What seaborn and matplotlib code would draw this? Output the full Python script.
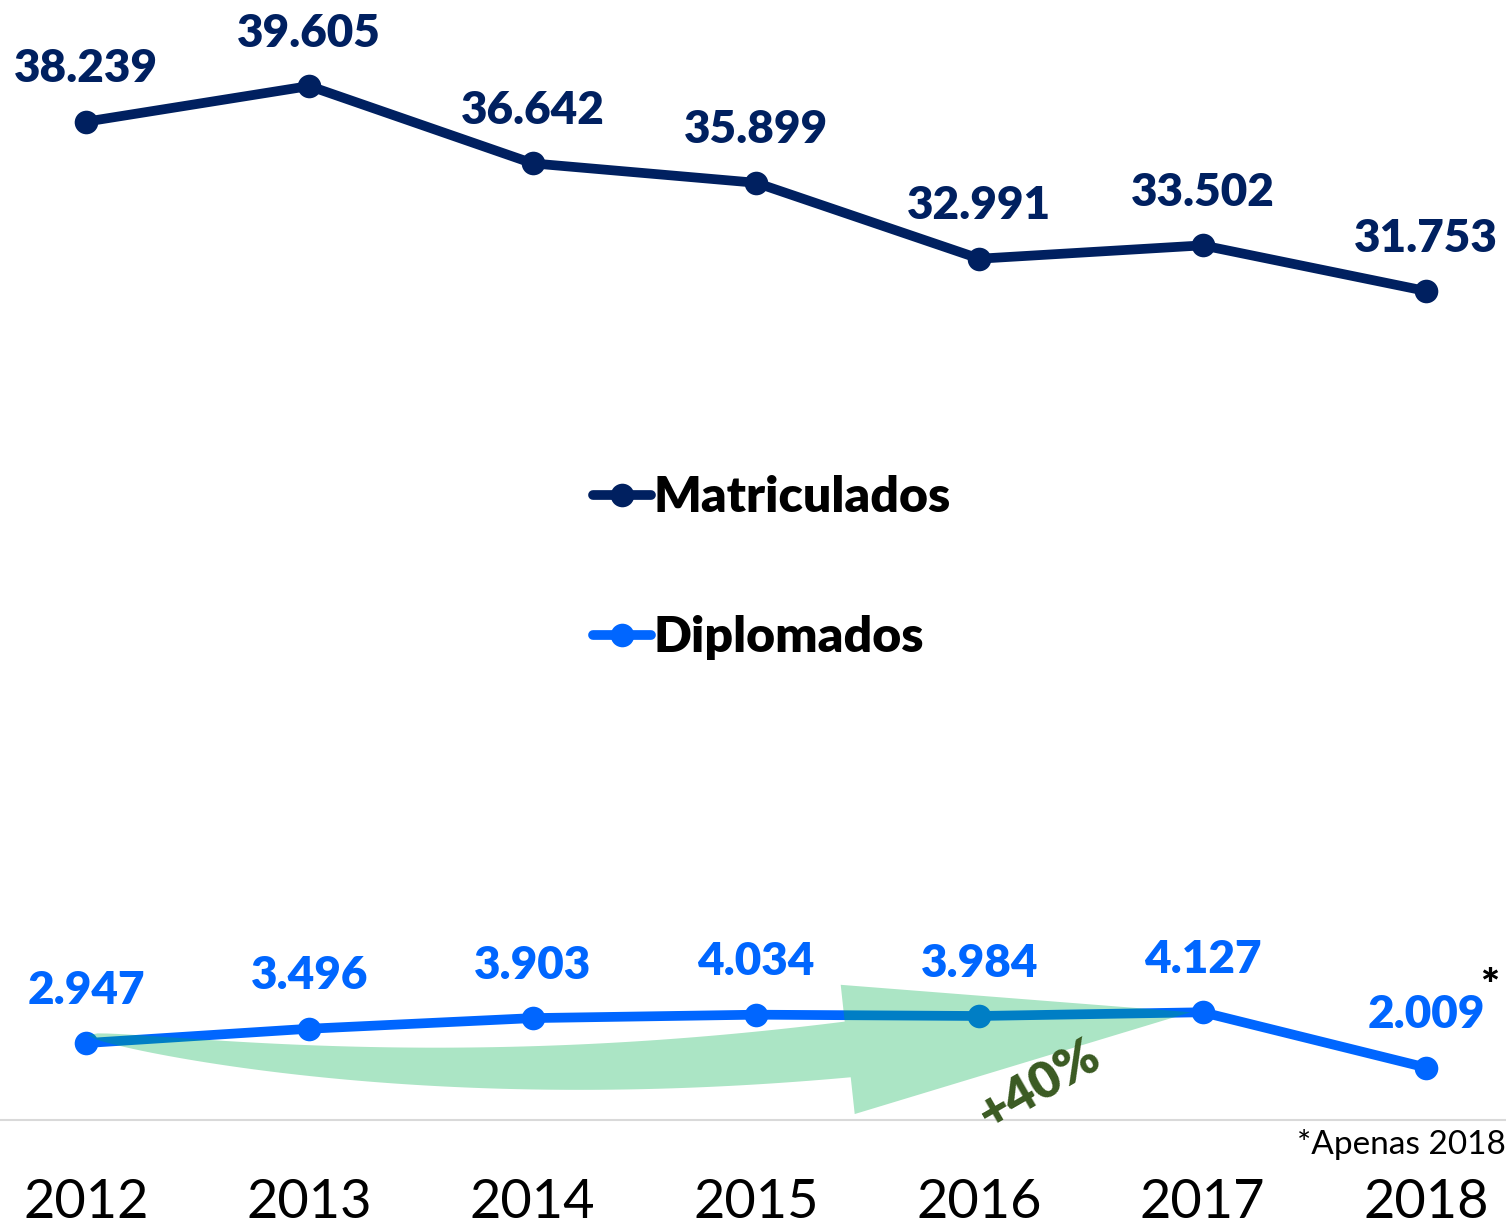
import numpy as np
import pandas as pd
import matplotlib
matplotlib.use('Agg')
import matplotlib.pyplot as plt
import seaborn as sns
from matplotlib.patches import Polygon

# data
anos = [2012, 2013, 2014, 2015, 2016, 2017, 2018]
matriculados = [38239, 39605, 36642, 35899, 32991, 33502, 31753]
diplomados = [2947, 3496, 3903, 4034, 3984, 4127, 2009]
rotulos_mat = ['38.239', '39.605', '36.642', '35.899', '32.991', '33.502', '31.753']
rotulos_dip = ['2.947', '3.496', '3.903', '4.034', '3.984', '4.127', '2.009']

df = pd.DataFrame({
    'ano': anos * 2,
    'valor': matriculados + diplomados,
    'serie': ['Matriculados'] * 7 + ['Diplomados'] * 7,
})

cores = {'Matriculados': '#002060', 'Diplomados': '#0066FF'}

sns.set_style('white')
plt.rcParams['font.family'] = ['Lato', 'DejaVu Sans']
plt.rcParams['text.color'] = 'black'

fig = plt.figure(figsize=(15.06, 12.28), dpi=100)
ax = fig.add_axes([0, 108 / 1228, 1, 1120 / 1228])

sns.lineplot(data=df, x='ano', y='valor', hue='serie', palette=cores,
             marker='o', markersize=17, linewidth=7, markeredgewidth=0,
             solid_capstyle='round', ax=ax, zorder=3)

ax.set_xlim(2012 - 0.385, 2018 + 0.358)
ax.set_ylim(0, 42900)

# data labels
for a, v, t in zip(anos, matriculados, rotulos_mat):
    ax.annotate(t, (a, v), xytext=(0, 38), textcoords='offset points',
                ha='center', va='center', fontsize=33, fontweight='heavy',
                color=cores['Matriculados'])
for a, v, t in zip(anos, diplomados, rotulos_dip):
    ax.annotate(t, (a, v), xytext=(0, 38), textcoords='offset points',
                ha='center', va='center', fontsize=33, fontweight='heavy',
                color=cores['Diplomados'])
ax.annotate('*', (anos[-1], diplomados[-1]), xytext=(46, 58), textcoords='offset points',
            ha='center', va='center', fontsize=32, fontweight='heavy', color='black')

# curved growth arrow 2012 -> 2017 (built in pixel space)
fig.canvas.draw()
p0 = ax.transData.transform((anos[0], diplomados[0])) + np.array([2, 8])
tip = ax.transData.transform((anos[5], diplomados[5])) - np.array([12, 0])
corda = (tip - p0) / np.linalg.norm(tip - p0)
ang = np.deg2rad(5)
u = np.array([corda[0] * np.cos(ang) - corda[1] * np.sin(ang),
              corda[0] * np.sin(ang) + corda[1] * np.cos(ang)])
n = np.array([-u[1], u[0]])
base = tip - 345 * u
p1 = base - 400 * u
t = np.linspace(0, 1, 80)[:, None]
curva = (1 - t) ** 2 * p0 + 2 * (1 - t) * t * p1 + t ** 2 * base
deriv = 2 * (1 - t) * (p1 - p0) + 2 * t * (base - p1)
normal = np.column_stack([-deriv[:, 1], deriv[:, 0]])
normal = normal / np.linalg.norm(normal, axis=1)[:, None]
larg = 28 * np.sqrt(t)
sup = curva + larg * normal
inf = curva - larg * normal
pontos = np.vstack([sup, base + 65 * n, tip, base - 65 * n, inf[::-1]])
ax.add_patch(Polygon(pontos, closed=True, transform=None, facecolor='#00B050',
                     alpha=0.33, lw=0, zorder=4))

ax.text(2016.27, 1350, '+40%', fontsize=37, fontweight='heavy', color='#3A5A22',
        rotation=30, ha='center', va='center', zorder=5)

# axes styling
ax.set_xticks(anos)
ax.set_xticklabels([str(a) for a in anos], fontsize=39, color='black')
ax.tick_params(axis='x', length=0, pad=42)
ax.set_yticks([])
ax.set_xlabel('')
ax.set_ylabel('')
for s in ['top', 'left', 'right']:
    ax.spines[s].set_visible(False)
ax.spines['bottom'].set_color('#D9D9D9')
ax.spines['bottom'].set_linewidth(1.5)

fig.text(1.0, 1 - 1145 / 1228, '*Apenas 2018', ha='right', va='center', fontsize=24, color='black')

leg = ax.legend(loc='center', bbox_to_anchor=(772 / 1506, (1120 - 568) / 1120),
                frameon=False, prop={'weight': 'heavy', 'size': 36},
                handlelength=1.16, handletextpad=0.05, labelspacing=1.9)
for h in leg.legend_handles:
    h.set_linewidth(7)
    h.set_markersize(17)
    h.set_solid_capstyle('round')
for txt in leg.get_texts():
    txt.set_color('black')

fig.savefig('out.png', dpi=100)
